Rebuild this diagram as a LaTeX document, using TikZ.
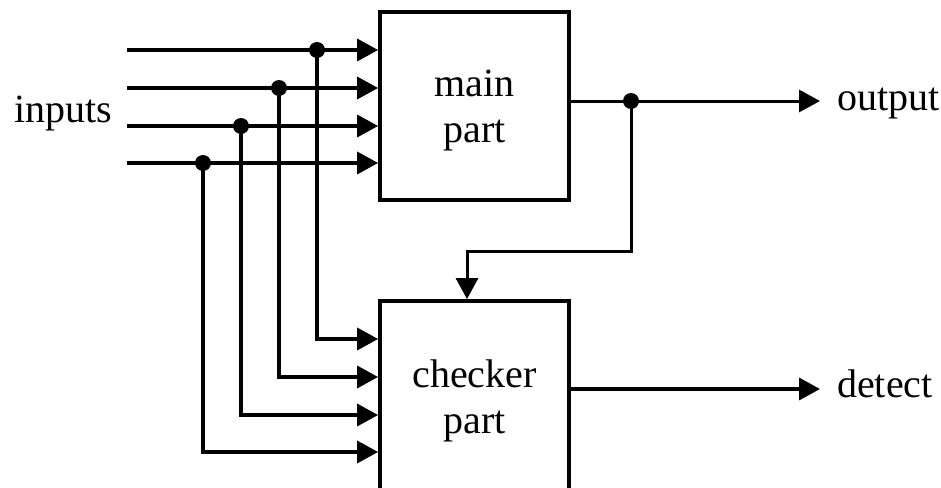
\documentclass[tikz,border=0pt]{standalone}
\usepackage{fontspec}
\setmainfont{Liberation Serif}
\usetikzlibrary{arrows.meta}
\begin{document}
\begin{tikzpicture}[x=1pt,y=-1pt,
  wire/.style={line width=3.5pt},
  fbwire/.style={line width=3pt},
  arr/.style={-{Triangle[length=21pt,width=22pt]}},
  box/.style={draw,line width=3.8pt,minimum width=189pt,inner sep=0pt,align=center,font=\fontsize{40}{46}\selectfont},
  dot/.style={circle,fill,inner sep=0pt,minimum size=16pt},
  lbl/.style={inner sep=0pt,font=\fontsize{40}{46}\selectfont}]
\useasboundingbox (0,0) rectangle (941,487);
\clip (0,0) rectangle (941,487);
% blocks
\node[box,minimum height=187.5pt] (main) at (474.5,106) {\rule{0pt}{36pt}main\\part};
\node[box,minimum height=200pt] (checker) at (474.5,401) {checker\\part};
% labels
\node[lbl,anchor=base west] (inputs) at (14,122) {inputs};
\node[lbl,anchor=base west] (output) at (837,110) {output};
\node[lbl,anchor=base west] (detect) at (837,397) {detect};
% inputs
\foreach \y/\dx/\cy [count=\i] in {50/317/339, 88/279/377, 126/241/415, 163/203/452} {
  \coordinate (s\i) at (127,\y);
  \coordinate (c\i) at (\dx,\cy);
  \draw[wire,arr] (s\i) -- (s\i -| main.west);
  \node[dot] (d\i) at (\dx,\y) {};
  \draw[wire,arr] (d\i.center) -- (c\i) -- (c\i -| checker.west);
}
% output and feedback
\node[dot] (jo) at (631,101) {};
\coordinate (f1) at (631,251);
\coordinate (f2) at (467,251);
\draw[fbwire,arr,shorten >=17pt] (main.east |- jo) -- (output.west |- jo);
\draw[fbwire,arr] (jo.center) -- (f1) -- (f2) -- (f2 |- checker.north);
% detect
\coordinate (dy) at (700,389);
\draw[wire,arr,shorten >=17pt] (checker.east |- dy) -- (detect.west |- dy);
\end{tikzpicture}
\end{document}
